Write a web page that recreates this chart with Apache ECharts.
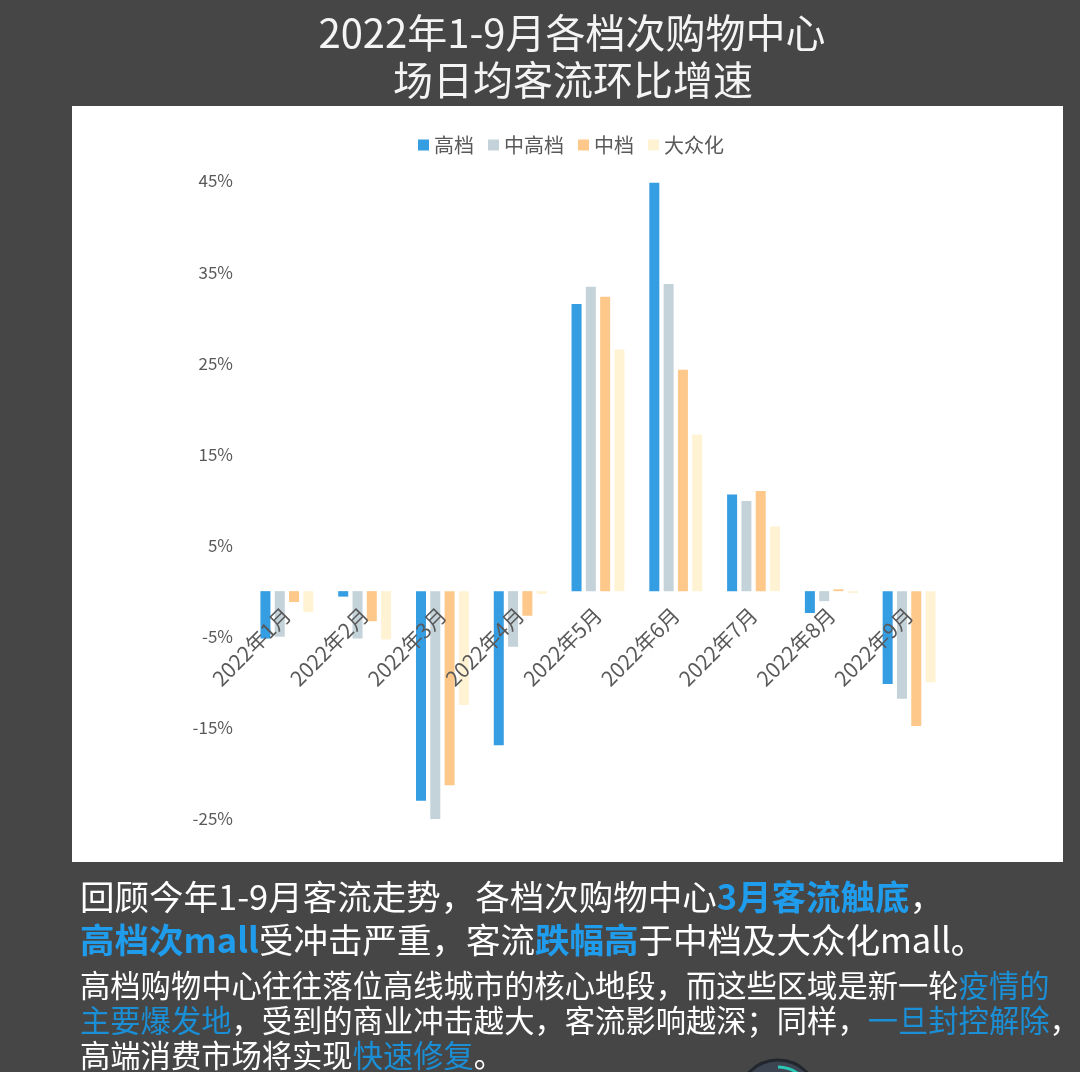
<!DOCTYPE html>
<html>
<head>
<meta charset="utf-8">
<script src="https://cdn.jsdelivr.net/npm/echarts@6/dist/echarts.min.js"></script>
<style>
html,body{margin:0;padding:0;background:#464646;}
#main{width:1080px;height:1072px;}
</style>
</head>
<body>
<div id="main"></div>
<script>
const categories = ['2022年1月','2022年2月','2022年3月','2022年4月','2022年5月','2022年6月','2022年7月','2022年8月','2022年9月'];
const seriesNames = ['高档','中高档','中档','大众化'];
const highEnd = [-5.2, -0.6, -23.0, -16.9, 31.5, 44.8, 10.6, -2.4, -10.2];
const midHigh = [-5.0, -5.2, -25.0, -6.1, 33.4, 33.7, 9.9, -1.1, -11.8];
const midGrade = [-1.2, -3.3, -21.3, -2.7, 32.3, 24.3, 11.0, 0.2, -14.8];
const mass = [-2.3, -5.3, -12.5, -0.3, 26.5, 17.2, 7.1, -0.2, -10.0];
const yTicks = [-25, -15, -5, 5, 15, 25, 35, 45];
const colors = ['#359de2', '#c4d3d9', '#fdc88a', '#fff3d4'];

const chart = echarts.init(document.getElementById('main'));
const FONT = '"Noto Sans CJK SC", "Noto Sans", sans-serif';
const seriesData = [highEnd, midHigh, midGrade, mass];

const W = '#ffffff', B = '#1f9cec', B2 = '#1a8fd6';
function richSet(size, bold, blue) {
  return {
    w: { fontSize: size, fontFamily: FONT, fill: W, color: W },
    b: { fontSize: size, fontFamily: FONT, fontWeight: bold ? 'bold' : 'normal', fill: blue, color: blue }
  };
}

const gridTop = 181, gridBottom = 253, yMin = -25, yMax = 45;
const plotH = 1072 - gridTop - gridBottom;
const zeroOffset = -plotH * (0 - yMin) / (yMax - yMin);

const option = {
  backgroundColor: '#464646',
  textStyle: { fontFamily: FONT },
  animation: false,
  graphic: [
    { type: 'rect', shape: { x: 72, y: 106, width: 991, height: 756 }, style: { fill: '#ffffff' }, z: -10 },
    { type: 'text', x: 572, y: 33, style: { text: '2022年1-9月各档次购物中心', font: '40px ' + FONT, fill: '#f4f4f4', textAlign: 'center', textVerticalAlign: 'middle' } },
    { type: 'text', x: 573, y: 80, style: { text: '场日均客流环比增速', font: '40px ' + FONT, fill: '#f4f4f4', textAlign: 'center', textVerticalAlign: 'middle' } },
    { type: 'text', x: 80, y: 897, style: {
      text: '{w|回顾今年1-9月客流走势，各档次购物中心}{b|3月客流触底}{w|，}',
      fill: W, textVerticalAlign: 'middle', rich: richSet(34.5, true, B) } },
    { type: 'text', x: 80, y: 940, style: {
      text: '{b|高档次mall}{w|受冲击严重，客流}{b|跌幅高}{w|于中档及大众化mall。}',
      fill: W, textVerticalAlign: 'middle', rich: richSet(34.5, true, B) } },
    { type: 'text', x: 80, y: 985, style: {
      text: '{w|高档购物中心往往落位高线城市的核心地段，而这些区域是新一轮}{b|疫情的}',
      fill: W, textVerticalAlign: 'middle', rich: richSet(30.3, false, B2) } },
    { type: 'text', x: 80, y: 1020, style: {
      text: '{b|主要爆发地}{w|，受到的商业冲击越大，客流影响越深；同样，}{b|一旦封控解除}{w|，}',
      fill: W, textVerticalAlign: 'middle', rich: richSet(30.3, false, B2) } },
    { type: 'text', x: 80, y: 1055, style: {
      text: '{w|高端消费市场将实现}{b|快速修复}{w|。}',
      fill: W, textVerticalAlign: 'middle', rich: richSet(30.3, false, B2) } },
    { type: 'circle', shape: { cx: 778, cy: 1100, r: 40 }, style: { fill: '#3e4552', stroke: '#22262d', lineWidth: 3 }, z: 20 },
    { type: 'arc', shape: { cx: 778, cy: 1100, r: 33, startAngle: -Math.PI / 2, endAngle: -Math.PI / 5, clockwise: true }, style: { stroke: '#2cc7b6', lineWidth: 3, fill: null }, z: 21 }
  ],
  legend: {
    data: seriesNames,
    left: 413,
    top: 130,
    itemWidth: 11,
    itemHeight: 11,
    itemGap: 14,
    icon: 'rect',
    textStyle: { fontSize: 20, color: '#595959', fontFamily: FONT }
  },
  grid: { left: 248, right: 132, top: gridTop, bottom: gridBottom, containLabel: false },
  xAxis: {
    type: 'category',
    data: categories,
    position: 'bottom',
    offset: zeroOffset,
    z: 10,
    axisLine: { show: false, onZero: false },
    axisTick: { show: false },
    axisLabel: { interval: 0, rotate: 45, margin: 20, fontSize: 21, color: '#595959', fontFamily: FONT }
  },
  yAxis: {
    type: 'value',
    min: yMin,
    max: yMax,
    splitLine: { show: false },
    axisLine: { show: false },
    axisTick: { show: false },
    axisLabel: { customValues: yTicks, formatter: v => v + '%', margin: 15, fontSize: 17, color: '#595959', fontFamily: FONT }
  },
  series: seriesNames.map((name, i) => ({
    name: name,
    type: 'bar',
    data: seriesData[i],
    barWidth: 10,
    barGap: '43%',
    itemStyle: { color: colors[i] }
  }))
};
chart.setOption(option);
</script>
</body>
</html>
